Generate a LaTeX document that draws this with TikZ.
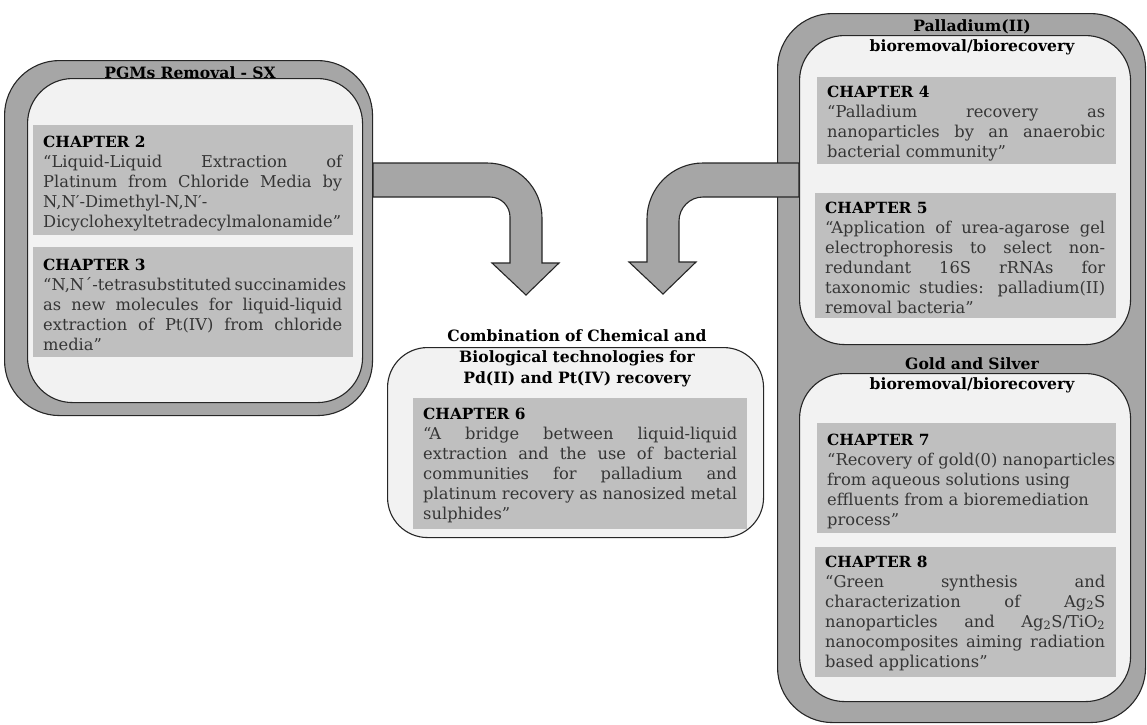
\documentclass[tikz,border=0pt]{standalone}
\usepackage{fontspec}
\setmainfont{DejaVu Serif}
\definecolor{outerg}{HTML}{A6A6A6}
\definecolor{innerg}{HTML}{F2F2F2}
\definecolor{chapg}{HTML}{BFBFBF}
\definecolor{linec}{HTML}{262626}
\definecolor{textc}{HTML}{353535}
\newcommand\cfnt{\fontsize{16.3}{20}\selectfont}
\newcommand\tfnt{\fontsize{15.6}{20}\selectfont\bfseries}
\newcommand\jl[1]{\makebox[\hsize][s]{#1}}
\newcommand\fs{\rule{0pt}{14pt}}
\newcommand\chap[1]{\fs{\fontsize{15.4}{20}\selectfont\bfseries\color{black}CHAPTER #1}}
\begin{document}
\begin{tikzpicture}[x=1pt,y=1pt,
  outerbox/.style={draw=linec, line width=1.1pt, fill=outerg, rounded corners=55pt, anchor=north west, inner sep=0pt},
  innerbox/.style={draw=linec, line width=1.1pt, fill=innerg, rounded corners=45pt, anchor=north west, inner sep=0pt},
  chapbox/.style={fill=chapg, anchor=north west, inner sep=0pt},
  chaptext/.style={anchor=north west, inner sep=0pt, align=justify, font=\cfnt, text=textc},
  titletext/.style={anchor=north, inner sep=0pt, text width=340pt, align=center, font=\tfnt, text=black},
  blockarrow/.style={draw=linec, line width=1.1pt, fill=outerg, line join=miter}]
\useasboundingbox (0,0) rectangle (1147,-724);
\fill[white] (0,0) rectangle (1147,-724);

% outer boxes
\node[outerbox, minimum width=368pt, minimum height=355pt] (pgm) at (4,-60) {};
\node[outerbox, minimum width=368pt, minimum height=709pt] (bio) at (777,-13) {};

% block arrow from the SX group
\draw[blockarrow] (pgm.east |- 0,-163) -- (487,-163) arc[start angle=90, end angle=0, radius=55]
  -- (542,-263) -- (559,-263) -- (526,-295) -- (492,-263) -- (510,-263) -- (510,-217)
  arc[start angle=0, end angle=90, radius=20] -- (pgm.east |- 0,-197) -- cycle;

% inner boxes
\node[innerbox, minimum width=335pt, minimum height=324pt] (pgmin) at (27,-78) {};
\node[innerbox, minimum width=331pt, minimum height=309pt] (pd) at (799,-35) {};
\node[innerbox, minimum width=331pt, minimum height=328pt] (au) at (799,-373) {};
\node[innerbox, rounded corners=40pt, minimum width=376pt, minimum height=190pt] (comb) at (387,-347) {};

% block arrow from the bio group
\draw[blockarrow] (pd.west |- 0,-163) -- (703,-163) arc[start angle=90, end angle=180, radius=56]
  -- (647,-262) -- (629,-262) -- (663,-294) -- (696,-262) -- (679,-262) -- (679,-221)
  arc[start angle=180, end angle=90, radius=24] -- (pd.west |- 0,-197) -- cycle;

% chapter boxes
\node[chapbox, minimum width=320pt, minimum height=110pt] (c2) at (33,-125) {};
\node[chapbox, minimum width=320pt, minimum height=110pt] (c3) at (33,-247) {};
\node[chapbox, minimum width=299pt, minimum height=87pt] (c4) at (817,-77) {};
\node[chapbox, minimum width=301pt, minimum height=125pt] (c5) at (815,-193) {};
\node[chapbox, minimum width=334pt, minimum height=131pt] (c6) at (413,-398) {};
\node[chapbox, minimum width=299pt, minimum height=110pt] (c7) at (817,-423) {};
\node[chapbox, minimum width=301pt, minimum height=130pt] (c8) at (815,-547) {};

% chapter texts
\node[chaptext, text width=299pt] (t2) at (43,-133) {\chap{2}\\
\jl{“Liquid-Liquid Extraction of}\\
\jl{Platinum from Chloride Media by}\\
N,N′-Dimethyl-N,N′-\\
Dicyclohexyltetradecylmalonamide”};

\node[chaptext, text width=299pt] (t3) at (43,-256) {\chap{3}\\
\jl{“N,N´-tetrasubstituted succinamides}\\
\jl{as new molecules for liquid-liquid}\\
\jl{extraction of Pt(IV) from chloride}\\
media”};

\node[chaptext, text width=278pt] (t4) at (827,-83) {\chap{4}\\
\jl{“Palladium recovery as}\\
\jl{nanoparticles by an anaerobic}\\
bacterial community”};

\node[chaptext, text width=280pt] (t5) at (825,-199) {\chap{5}\\
\jl{“Application of urea-agarose gel}\\
\jl{electrophoresis to select non-}\\
\jl{redundant 16S rRNAs for}\\
\jl{taxonomic studies: palladium(II)}\\
removal bacteria”};

\node[chaptext, text width=314pt] (t6) at (423,-405) {\chap{6}\\
\jl{“A bridge between liquid-liquid}\\
\jl{extraction and the use of bacterial}\\
\jl{communities for palladium and}\\
\jl{platinum recovery as nanosized metal}\\
sulphides”};

\node[chaptext, text width=330pt] (t7) at (827,-431) {\chap{7}\\
“Recovery of gold(0) nanoparticles\\
from aqueous solutions using\\
effluents from a bioremediation\\
process”};

\node[chaptext, text width=280pt] (t8) at (825,-553) {\chap{8}\\
\jl{“Green synthesis and}\\
\jl{characterization of Ag\textsubscript{2}S}\\
\jl{nanoparticles and Ag\textsubscript{2}S/TiO\textsubscript{2}}\\
\jl{nanocomposites aiming radiation}\\
based applications”};

% titles
\node[titletext] (tpgm) at (190,-65) {\rule{0pt}{13pt}PGMs Removal - SX};
\node[titletext] (tpd) at (972,-18) {\rule{0pt}{13pt}Palladium(II)\\bioremoval/biorecovery};
\node[titletext] (tau) at (972,-356) {\rule{0pt}{13pt}Gold and Silver\\bioremoval/biorecovery};
\node[titletext, font=\fontsize{15.6}{21}\selectfont\bfseries] (tcomb) at (577,-328) {\rule{0pt}{13pt}Combination of Chemical and\\Biological technologies for\\Pd(II) and Pt(IV) recovery};
\end{tikzpicture}
\end{document}
